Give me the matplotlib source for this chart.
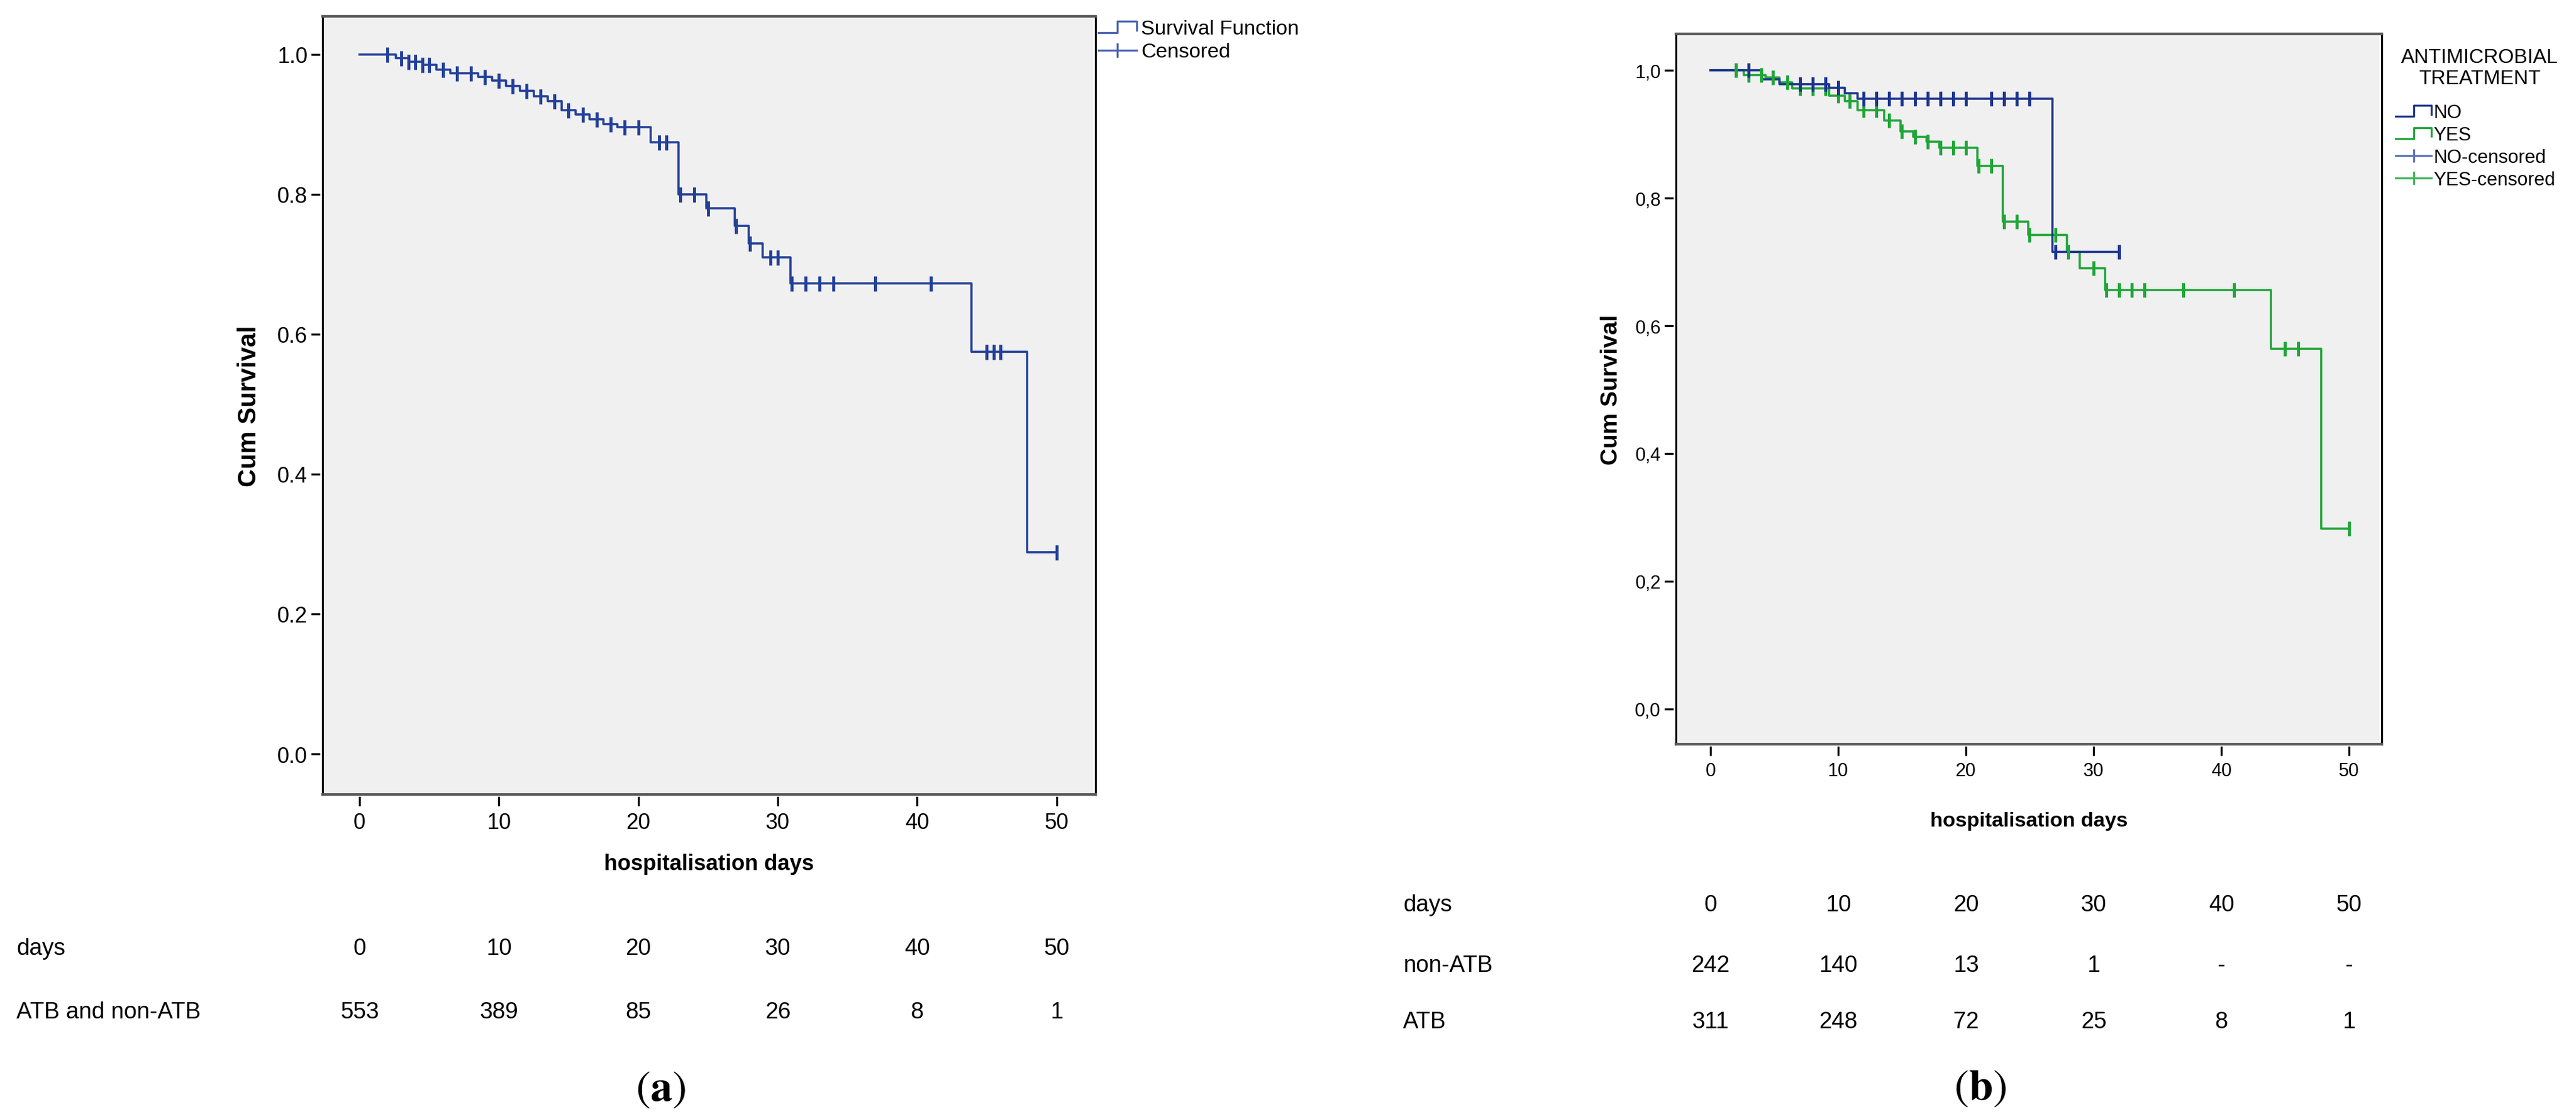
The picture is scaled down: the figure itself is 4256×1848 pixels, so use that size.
import numpy as np
import matplotlib
matplotlib.use("Agg")
import matplotlib.pyplot as plt
from matplotlib.lines import Line2D
from matplotlib.patches import Rectangle
from matplotlib.legend_handler import HandlerBase
import matplotlib.transforms as mtransforms

plt.rcParams['font.family'] = ['Liberation Sans', 'DejaVu Sans']
plt.rcParams['mathtext.fontset'] = 'stix'

# ---------------- data ----------------
# Panel (a): all patients (ATB and non-ATB)
a_event_t = [2.6, 3.5, 4.5, 5.5, 6.5, 8.5, 9.5, 10.5, 11.5, 12.5, 13.5, 14.5, 15.5,
             16.5, 17.5, 18.5, 20.9, 22.9, 24.9, 26.9, 27.9, 28.9, 30.9, 43.9, 47.9]
a_surv = [0.995, 0.990, 0.985, 0.978, 0.973, 0.968, 0.963, 0.955, 0.948, 0.940, 0.933,
          0.920, 0.914, 0.907, 0.900, 0.896, 0.874, 0.800, 0.780, 0.755, 0.730, 0.710,
          0.673, 0.575, 0.288]
a_end = 50
a_cens = [2, 3, 3.5, 4, 4.5, 5, 6, 7, 8, 9, 10, 11, 12, 13, 14, 15, 16, 17, 18, 19,
          20, 21.5, 22, 23, 24, 25, 27, 28, 29.5, 30, 31, 32, 33, 34, 37, 41, 45, 45.5,
          46, 50]

# Panel (b): antimicrobial treatment NO
b_no_t = [4.0, 5.4, 9.3, 10.5, 11.5, 26.8]
b_no_s = [0.986, 0.978, 0.973, 0.964, 0.955, 0.716]
b_no_end = 32
b_no_cens = [3, 7, 8, 9, 10, 12, 13, 14, 15, 16, 17, 18, 19, 20, 22, 23, 24, 25,
             27, 32]

# Panel (b): antimicrobial treatment YES
b_yes_t = [2.6, 4.3, 5.4, 6.4, 9.3, 10.5, 11.5, 13.6, 14.9, 15.9, 16.9, 17.9, 20.9,
           22.9, 24.9, 27.9, 28.9, 30.9, 43.9, 47.8]
b_yes_s = [0.992, 0.989, 0.981, 0.972, 0.960, 0.952, 0.937, 0.921, 0.904, 0.896,
           0.888, 0.879, 0.850, 0.763, 0.742, 0.716, 0.690, 0.656, 0.564, 0.282]
b_yes_end = 50
b_yes_cens = [2, 3, 4, 4.9, 6, 7, 8, 9, 10, 10.9, 12, 13, 14, 15, 16, 17, 18, 19, 20,
              21, 22, 23, 24, 25, 27, 28, 30, 31, 32, 33, 34, 37, 41, 45, 46, 50]

# numbers at risk tables
table_days = [0, 10, 20, 30, 40, 50]
a_row_label = "ATB and non-ATB"
a_counts = ["553", "389", "85", "26", "8", "1"]
b_row_labels = ["non-ATB", "ATB"]
b_nonatb = ["242", "140", "13", "1", "-", "-"]
b_atb = ["311", "248", "72", "25", "8", "1"]

y_ticks = [0.0, 0.2, 0.4, 0.6, 0.8, 1.0]

# ---------------- styling ----------------
W, H = 4256, 1849
DPI = 100
BG = '#f0f0f0'
C_A = '#23409a'
C_NO = '#1d348f'
C_YES = '#1fa637'


def km_xy(ev_t, ev_s, end):
    x = np.concatenate([[0.0], np.asarray(ev_t, float), [end]])
    y = np.concatenate([[1.0], np.asarray(ev_s, float), [ev_s[-1]]])
    return x, y


def surv_at(ev_t, ev_s, t):
    xs = np.concatenate([[0.0], np.asarray(ev_t, float)])
    ys = np.concatenate([[1.0], np.asarray(ev_s, float)])
    idx = np.searchsorted(xs, np.asarray(t, float), side='right') - 1
    return ys[idx]


class HandlerKMStep(HandlerBase):
    def create_artists(self, legend, orig_handle, xdescent, ydescent, width,
                       height, fontsize, trans):
        xs = np.array([0.0, 0.5, 0.5, 1.0, 1.0]) * width - xdescent
        ys = np.array([0.1, 0.1, 0.9, 0.9, 0.25]) * height - ydescent
        ln = Line2D(xs, ys, color=orig_handle.get_color(),
                    lw=orig_handle.get_linewidth())
        ln.set_transform(trans)
        return [ln]


def style_axes(ax, xlim, ylim, sep, lab_size):
    ax.set_facecolor(BG)
    ax.set_xlim(*xlim)
    ax.set_ylim(*ylim)
    ax.set_xticks(table_days)
    ax.set_xticklabels([str(d) for d in table_days])
    ax.set_yticks(y_ticks)
    ax.set_yticklabels([f"{v:.1f}".replace('.', sep) for v in y_ticks])
    for s in ('top', 'bottom'):
        ax.spines[s].set_color('#5a5a5a')
        ax.spines[s].set_linewidth(3.2)
    for s in ('left', 'right'):
        ax.spines[s].set_color('black')
        ax.spines[s].set_linewidth(2.4)
    ax.tick_params(axis='both', direction='out', length=14, width=2.4,
                   labelsize=lab_size, color='black')
    ax.tick_params(axis='y', pad=4)
    ax.tick_params(axis='x', pad=7)
    # thin white inner border as in SPSS charts
    ax.add_patch(Rectangle((0, 0), 1, 1, transform=ax.transAxes, fill=False,
                           edgecolor='white', lw=5.5, zorder=2.4, clip_on=False))


fig = plt.figure(figsize=(W / DPI, H / DPI), dpi=DPI)
fig.patch.set_facecolor('white')

# ---------- panel (a) ----------
ax_a = fig.add_axes([533 / W, 1 - 1313 / H, (1810 - 533) / W, (1313 - 28) / H])
style_axes(ax_a, (-2.65, 52.8), (-0.058, 1.0545), '.', 26)
xa, ya = km_xy(a_event_t, a_surv, a_end)
ax_a.step(xa, ya, where='post', color=C_A, lw=2.6, zorder=3)
ax_a.plot(a_cens, surv_at(a_event_t, a_surv, a_cens), linestyle='none', marker='|',
          markersize=18, mew=3.6, color=C_A, zorder=4)
ax_a.set_xlabel("hospitalisation days", fontsize=26, fontweight='bold', va='center')
ax_a.xaxis.set_label_coords(0.5, -(1428 - 1313) / (1313 - 28))
ax_a.set_ylabel("Cum Survival", fontsize=30, fontweight='bold', va='center')
ax_a.yaxis.set_label_coords(-(533 - 412) / (1810 - 533), 0.5)

h_step_a = Line2D([], [], color='#4a63b3', lw=2.4)
h_cens_a = Line2D([], [], color='#4a63b3', lw=2.4, marker='|', markersize=17, mew=2.4)
fig.legend([h_step_a, h_cens_a], ["Survival Function", "Censored"],
           handler_map={h_step_a: HandlerKMStep()},
           loc='upper left', bbox_to_anchor=(1815 / W, 1 - 33 / H),
           bbox_transform=fig.transFigure, frameon=False, fontsize=24.5,
           borderpad=0, borderaxespad=0, handlelength=1.85, handletextpad=0.2,
           labelspacing=0.22, numpoints=1)

tr_a = mtransforms.blended_transform_factory(ax_a.transData, fig.transFigure)
fig.text(27 / W, 1 - 1567 / H, "days", fontsize=27.5, ha='left', va='center')
fig.text(27 / W, 1 - 1672 / H, a_row_label, fontsize=27.5, ha='left', va='center')
for d, c in zip(table_days, a_counts):
    fig.text(d, 1 - 1567 / H, str(d), transform=tr_a, fontsize=27.5,
             ha='center', va='center')
    fig.text(d, 1 - 1672 / H, c, transform=tr_a, fontsize=27.5,
             ha='center', va='center')
fig.text(1091 / W, 1 - 1800 / H, r'$(\mathbf{a})$', fontsize=52,
         ha='center', va='center')

# ---------- panel (b) ----------
ax_b = fig.add_axes([2769 / W, 1 - 1230 / H, (3935 - 2769) / W, (1230 - 57) / H])
style_axes(ax_b, (-2.7, 52.56), (-0.055, 1.0569), ',', 22)
xn, yn = km_xy(b_no_t, b_no_s, b_no_end)
xy_, yy_ = km_xy(b_yes_t, b_yes_s, b_yes_end)
ax_b.step(xy_, yy_, where='post', color=C_YES, lw=2.6, zorder=3)
ax_b.step(xn, yn, where='post', color=C_NO, lw=2.6, zorder=3)
ax_b.plot(b_yes_cens, surv_at(b_yes_t, b_yes_s, b_yes_cens), linestyle='none',
          marker='|', markersize=17, mew=3.6, color=C_YES, zorder=4)
ax_b.plot(b_no_cens, surv_at(b_no_t, b_no_s, b_no_cens), linestyle='none',
          marker='|', markersize=17, mew=3.6, color=C_NO, zorder=5)
ax_b.set_xlabel("hospitalisation days", fontsize=24.5, fontweight='bold', va='center')
ax_b.xaxis.set_label_coords(0.5, -(1357 - 1230) / (1230 - 57))
ax_b.set_ylabel("Cum Survival", fontsize=28, fontweight='bold', va='center')
ax_b.yaxis.set_label_coords(-(2769 - 2662) / (3935 - 2769), 0.5)

h_no = Line2D([], [], color=C_NO, lw=2.4)
h_yes = Line2D([], [], color=C_YES, lw=2.4)
h_no_c = Line2D([], [], color='#5a72bb', lw=2.4, marker='|', markersize=16, mew=2.4)
h_yes_c = Line2D([], [], color='#3db653', lw=2.4, marker='|', markersize=16, mew=2.4)
fig.text(4097 / W, 1 - 113 / H, "ANTIMICROBIAL\nTREATMENT", fontsize=24,
         ha='center', va='center', multialignment='center', linespacing=1.15)
fig.legend([h_no, h_yes, h_no_c, h_yes_c],
           ["NO", "YES", "NO-censored", "YES-censored"],
           handler_map={h_no: HandlerKMStep(), h_yes: HandlerKMStep()},
           loc='upper left', bbox_to_anchor=(3958 / W, 1 - 172 / H),
           bbox_transform=fig.transFigure, frameon=False, fontsize=22.5,
           borderpad=0, borderaxespad=0, handlelength=1.9, handletextpad=0.1,
           labelspacing=0.22, numpoints=1)

tr_b = mtransforms.blended_transform_factory(ax_b.transData, fig.transFigure)
rows_b = [("days", [str(d) for d in table_days], 1495),
          (b_row_labels[0], b_nonatb, 1595),
          (b_row_labels[1], b_atb, 1688)]
for lab, vals, py in rows_b:
    fig.text(2318 / W, 1 - py / H, lab, fontsize=27.5, ha='left', va='center')
    for d, v in zip(table_days, vals):
        fig.text(d, 1 - py / H, v, transform=tr_b, fontsize=27.5,
                 ha='center', va='center')
fig.text(3271 / W, 1 - 1798 / H, r'$(\mathbf{b})$', fontsize=52,
         ha='center', va='center')

fig.savefig("out.png", dpi=DPI, facecolor='white')
